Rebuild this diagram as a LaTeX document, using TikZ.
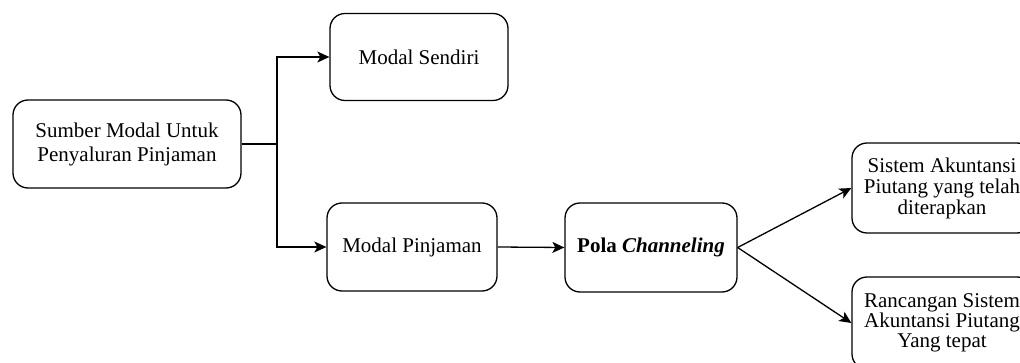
\documentclass[tikz,border=0pt]{standalone}
\usepackage{fontspec}
\setmainfont{LiberationSerif}[Extension=.ttf, UprightFont=*-Regular, BoldFont=*-Bold, ItalicFont=*-Italic, BoldItalicFont=*-BoldItalic]
\usetikzlibrary{arrows.meta}
\begin{document}
\begin{tikzpicture}[x=1pt,y=-1pt,
  box/.style={draw, line width=1.3pt, rounded corners=15pt, align=center,
    inner sep=0pt, font=\fontsize{21}{24}\selectfont},
  link/.style={line width=1.3pt, -{Stealth[length=12pt,width=11pt,inset=3pt]}},
  wire/.style={line width=1.3pt}]
\useasboundingbox (0,0) rectangle (1020,363);
\node[box, minimum width=228pt, minimum height=88pt] (src) at (127,144)
  {Sumber Modal Untuk\\Penyaluran Pinjaman};
\node[box, minimum width=178pt, minimum height=87pt] (own) at (419,57)
  {Modal Sendiri};
\node[box, minimum width=170pt, minimum height=88pt] (loan) at (412,247)
  {Modal Pinjaman};
\node[box, minimum width=172pt, minimum height=89pt] (chan) at (651,247.5)
  {\textbf{Pola \textit{Channeling}}};
\node[box, minimum width=180pt, minimum height=90pt,
  font=\fontsize{21}{21}\selectfont] (sys) at (942,188)
  {Sistem Akuntansi\\Piutang yang telah\\diterapkan};
\node[box, minimum width=180pt, minimum height=92pt,
  font=\fontsize{21}{20}\selectfont] (design) at (942,323)
  {Rancangan Sistem\\Akuntansi Piutang\\Yang tepat};
\coordinate (fork) at (277,144);
\draw[wire] (src.east) -- (fork);
\draw[link] (fork) |- (own.west);
\draw[link] (fork) |- (loan.west);
\draw[link] (loan.east) -- (chan.west);
\draw[link] (chan.east) -- (sys.west);
\draw[link] (chan.east) -- (design.west);
\end{tikzpicture}
\end{document}
